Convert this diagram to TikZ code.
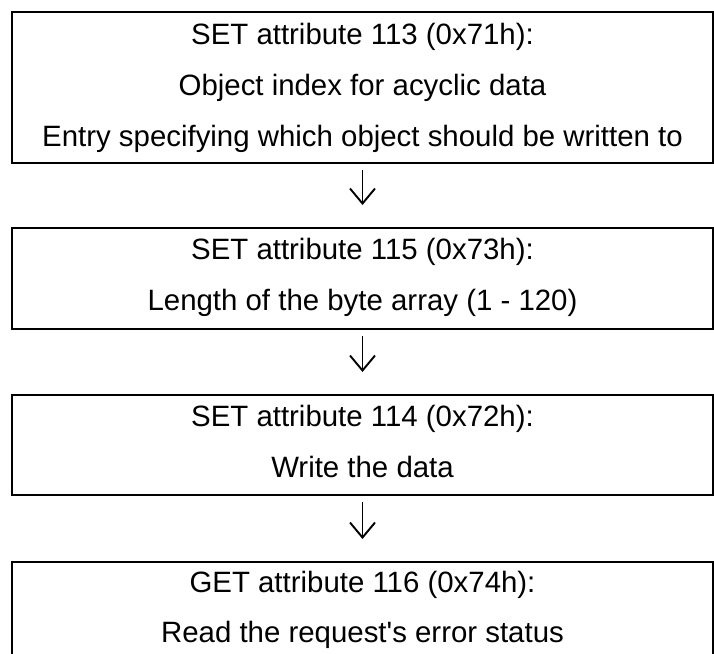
\documentclass[tikz,border=0pt]{standalone}
\usepackage{fontspec}
\setmainfont{Liberation Sans}
\usetikzlibrary{arrows.meta}
\begin{document}
\begin{tikzpicture}[x=1pt,y=-1pt,
  stepbox/.style={draw=black, line width=1.3pt, minimum width=701pt, inner sep=0pt, outer sep=0pt},
  line/.style={anchor=base, inner sep=0pt, font=\fontsize{29.4pt}{35pt}\selectfont},
  flow/.style={line width=1.9pt, -{Straight Barb[length=15pt, width=25pt, line width=1.9pt]}, shorten <=7pt, shorten >=23pt}
]
\useasboundingbox (0,0) rectangle (714,653);
% boxes
\node[stepbox, minimum height=151pt] (b1) at (362.5,87.5) {};
\node[stepbox, minimum height=101pt] (b2) at (362.5,278.5) {};
\node[stepbox, minimum height=100pt] (b3) at (362.5,445) {};
\node[stepbox, minimum height=100pt] (b4) at (362.5,612) {};
% texts
\node[line] (t11) at (362.5,44) {SET attribute 113 (0x71h):};
\node[line] (t12) at (362.5,95) {Object index for acyclic data};
\node[line] (t13) at (362.5,146) {Entry specifying which object should be written to};
\node[line] (t21) at (362.5,259) {SET attribute 115 (0x73h):};
\node[line] (t22) at (362.5,310) {Length of the byte array (1 - 120)};
\node[line] (t31) at (362.5,426) {SET attribute 114 (0x72h):};
\node[line] (t32) at (362.5,477) {Write the data};
\node[line] (t41) at (362.5,592) {GET attribute 116 (0x74h):};
\node[line] (t42) at (362.5,642) {Read the request\textquotesingle s error status};
% connectors
\draw[flow] (b1.south) -- (b2.north);
\draw[flow] (b2.south) -- (b3.north);
\draw[flow] (b3.south) -- (b4.north);
\end{tikzpicture}
\end{document}
